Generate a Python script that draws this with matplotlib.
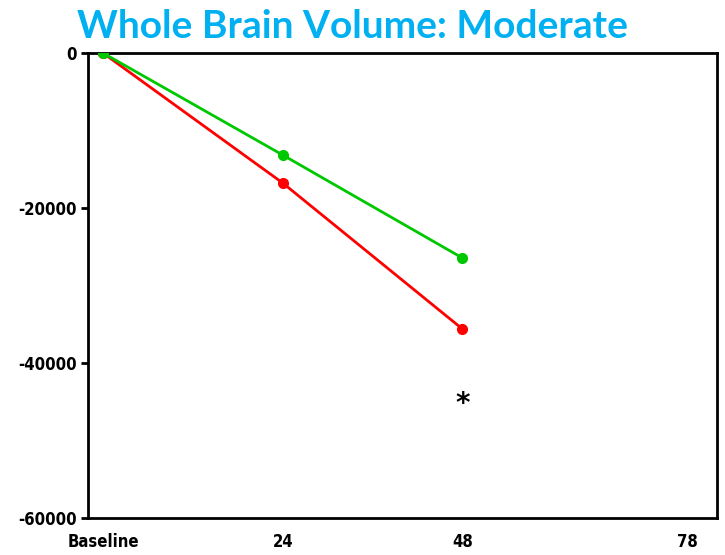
import matplotlib
matplotlib.use("Agg")
import matplotlib.pyplot as plt

months = [0, 24, 48]
green_vals = [0, -13160, -26450]
red_vals = [0, -16770, -35610]
star_x = 48
star_y = -45300
x_ticks = [0, 24, 48, 78]
x_labels = ["Baseline", "24", "48", "78"]
y_ticks = [0, -20000, -40000, -60000]
y_labels = ["0", "-20000", "-40000", "-60000"]
title = "Whole Brain Volume: Moderate"

fig = plt.figure(figsize=(7.25, 5.55), dpi=100)
ax = fig.add_axes([88/725, 1-518/555, (717-88)/725, (518-53)/555])

ax.plot(months, red_vals, color="#FF0000", lw=2, marker="o", ms=7, zorder=3)
ax.plot(months, green_vals, color="#00C800", lw=2, marker="o", ms=7, zorder=4)
ax.text(star_x, star_y, "*", ha="center", va="center", fontsize=20,
        fontweight="bold", color="black")

ax.set_xlim(-2, 82)
ax.set_ylim(-60000, 0)
tick_font = dict(family=["DejaVu Sans"], weight="bold", size=12, stretch="condensed")
ax.set_xticks(x_ticks)
ax.set_xticklabels(x_labels, **tick_font)
ax.set_yticks(y_ticks)
ax.set_yticklabels(y_labels, **tick_font)
ax.tick_params(axis="x", length=0, pad=11)
ax.tick_params(axis="y", length=5, width=2, pad=3, direction="out")
for s in ax.spines.values():
    s.set_linewidth(2)
    s.set_color("black")
ax.spines["left"].set_zorder(5)

fig.text(77/725, 1-27/555, title, ha="left", va="center", fontsize=28,
         fontweight="bold", color="#00B0F0", family=["Lato", "DejaVu Sans"])

fig.savefig("out.png", dpi=100)
